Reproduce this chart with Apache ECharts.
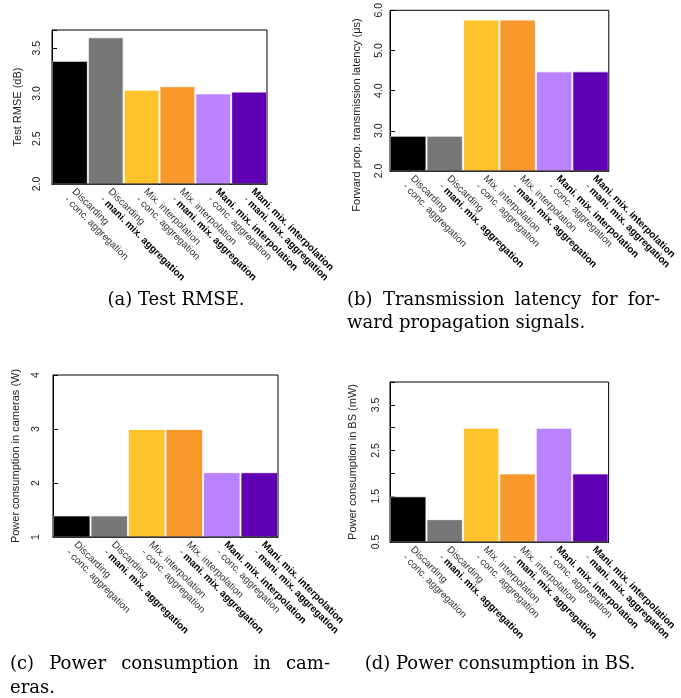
<!DOCTYPE html>
<html>
<head>
<meta charset="utf-8">
<script src="https://cdn.jsdelivr.net/npm/echarts@6/dist/echarts.min.js"></script>
<style>
  html, body { margin: 0; padding: 0; background: #fff; }
  #chart { width: 681px; height: 698px; }
</style>
</head>
<body>
<div id="chart"></div>
<script>
// Method names: first line (interpolation scheme) and second line (aggregation scheme)
const methodTop = ['Discarding', 'Discarding', 'Mix. interpolation', 'Mix. interpolation',
                   'Mani. mix. interpolation', 'Mani. mix. interpolation'];
const methodBottom = ['conc. aggregation', 'mani. mix. aggregation', 'conc. aggregation',
                      'mani. mix. aggregation', 'conc. aggregation', 'mani. mix. aggregation'];
// Proposed components are set in bold
const boldParts = ['Mani. mix. interpolation', 'mani. mix. aggregation'];

const barColors = ['#000000', '#777777', '#FEC22D', '#F8992E', '#BA82FC', '#5F00B4'];

// (a) Test RMSE (dB)
const rmse = [3.36, 3.62, 3.04, 3.08, 3.00, 3.02];
const rmseTicks = ['2.0', '2.5', '3.0', '3.5'];
// (b) Forward propagation transmission latency (us)
const latency = [2.88, 2.88, 5.77, 5.77, 4.48, 4.48];
const latencyTicks = ['2.0', '3.0', '4.0', '5.0', '6.0'];
// (c) Power consumption in cameras (W)
const camPower = [1.4, 1.4, 3.0, 3.0, 2.2, 2.2];
const camPowerTicks = ['1', '2', '3', '4'];
// (d) Power consumption in BS (mW)
const bsPower = [1.5, 1.0, 3.0, 2.0, 3.0, 2.0];
const bsPowerTicks = ['0.5', '1.5', '2.5', '3.5'];

const panels = [
  { data: rmse, ticks: rmseTicks, min: 2.0, max: 3.7, interval: 0.5,
    name: 'Test RMSE (dB)',
    grid: { left: 52, top: 30, width: 215, height: 154 }, labelMargin: 9, nameX: 18 },
  { data: latency, ticks: latencyTicks, min: 2.0, max: 6.0, interval: 1.0,
    name: 'Forward prop. transmission latency (\u03bcs)',
    grid: { left: 390, top: 10, width: 224, height: 161 }, labelMargin: 5, nameX: 357, nameY: 115 },
  { data: camPower, ticks: camPowerTicks, min: 1, max: 4, interval: 1,
    name: 'Power consumption in cameras (W)',
    grid: { left: 53, top: 375, width: 225, height: 162 }, labelMargin: 11, nameX: 16 },
  { data: bsPower, ticks: bsPowerTicks, min: 0.5, max: 4.0, interval: 0.5,
    name: 'Power consumption in BS (mW)',
    grid: { left: 390, top: 382, width: 222, height: 160 }, labelMargin: 8, nameX: 353 }
];

const categories = methodTop.map((t, i) => t + '\n' + methodBottom[i]);

function richPart(s) {
  return boldParts.indexOf(s) >= 0 ? '{b|' + s + '}' : '{n|' + s + '}';
}
function categoryLabel(value) {
  const parts = value.split('\n');
  return richPart(parts[0]) + '\n{n|- }' + richPart(parts[1]);
}

const labelFont = 'Liberation Sans, Arial, sans-serif';
const grids = [], xAxes = [], yAxes = [], series = [], graphics = [];

panels.forEach((p, k) => {
  grids.push(Object.assign({ show: true, borderColor: '#000', borderWidth: 1,
    backgroundColor: 'transparent', z: 10 }, p.grid));
  xAxes.push({
    type: 'category', gridIndex: k, data: categories,
    axisLine: { show: true, lineStyle: { color: '#000', width: 1 } },
    axisTick: { show: false },
    axisLabel: {
      interval: 0, rotate: -45, margin: 10,
      formatter: categoryLabel,
      rich: {
        n: { fontFamily: labelFont, fontSize: 10, color: '#333', lineHeight: 11 },
        b: { fontFamily: labelFont, fontSize: 10, fontWeight: 'bold', color: '#000', lineHeight: 11 }
      }
    }
  });
  yAxes.push({
    type: 'value', gridIndex: k, min: p.min, max: p.max, interval: p.interval,
    splitLine: { show: false },
    axisLine: { show: true, lineStyle: { color: '#000', width: 1 } },
    axisTick: { show: true, inside: true, length: 5, lineStyle: { color: '#000' } },
    axisLabel: {
      rotate: 90, margin: p.labelMargin, fontFamily: labelFont, fontSize: 10.5, color: '#222',
      formatter: function (v) {
        const hit = p.ticks.find(t => Math.abs(parseFloat(t) - v) < 1e-6);
        return hit === undefined ? '' : hit;
      }
    }
  });
  series.push({
    type: 'bar', xAxisIndex: k, yAxisIndex: k, data: p.data,
    barCategoryGap: '0%', clip: true,
    itemStyle: {
      color: function (d) { return barColors[d.dataIndex]; },
      borderColor: 'rgba(255,255,255,0.8)', borderWidth: 1
    },
    emphasis: { disabled: true }
  });
  const g = p.grid;
  graphics.push({
    type: 'text', x: p.nameX, y: p.nameY !== undefined ? p.nameY : g.top + g.height / 2,
    rotation: Math.PI / 2,
    style: { text: p.name, fontFamily: labelFont, fontSize: 11, fill: '#222',
             align: 'center', verticalAlign: 'middle' }
  });
});

// Sub-figure captions (justified like a two-column paper layout)
const capFont = '18px "DejaVu Serif", serif';
const measureCtx = document.createElement('canvas').getContext('2d');
measureCtx.font = capFont;

function captionText(text, x, y, align) {
  graphics.push({ type: 'text', x: x, y: y,
    style: { text: text, font: capFont, fill: '#000', align: align || 'left', verticalAlign: 'middle' } });
}
function justifiedLine(text, x0, x1, y) {
  const words = text.split(' ');
  const widths = words.map(w => measureCtx.measureText(w).width);
  const total = widths.reduce((a, b) => a + b, 0);
  const gap = (x1 - x0 - total) / (words.length - 1);
  let x = x0;
  words.forEach((w, i) => { captionText(w, x, y); x += widths[i] + gap; });
}

captionText('(a) Test RMSE.', 176, 300, 'center');
justifiedLine('(b) Transmission latency for for-', 347, 660, 300);
captionText('ward propagation signals.', 347, 323);
justifiedLine('(c) Power consumption in cam-', 10, 330, 664);
captionText('eras.', 10, 688);
captionText('(d) Power consumption in BS.', 500, 664, 'center');

const chart = echarts.init(document.getElementById('chart'), null, { renderer: 'canvas' });
chart.setOption({
  animation: false,
  grid: grids,
  xAxis: xAxes,
  yAxis: yAxes,
  series: series,
  graphic: graphics
});
</script>
</body>
</html>
